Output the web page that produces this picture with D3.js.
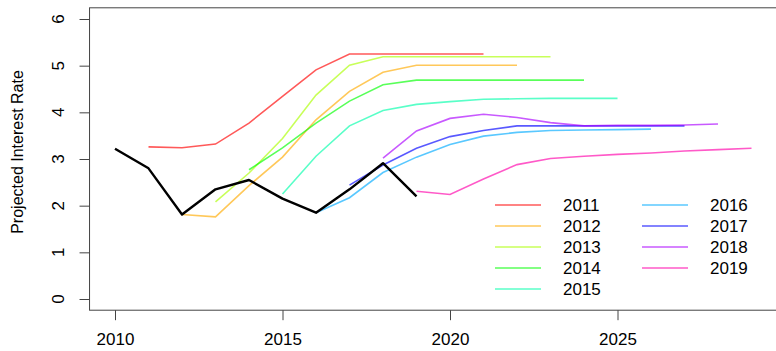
<!DOCTYPE html>
<html>
<head>
<meta charset="utf-8">
<script src="https://cdn.jsdelivr.net/npm/d3@7"></script>
<style>
  body { margin: 0; background: #fff; }
  svg text { font-family: "Liberation Sans", Arial, sans-serif; fill: #000; }
</style>
</head>
<body>
<div id="chart"></div>
<script>
// projection vintages and their colours (R rainbow palette, softened)
const vintages = [2011, 2012, 2013, 2014, 2015, 2016, 2017, 2018, 2019];
const colors = ["#FF0000", "#FFAA00", "#AAFF00", "#00FF00", "#00FFAA", "#00AAFF", "#0000FF", "#AA00FF", "#FF00AA"];

// each vintage projects 11 years starting from its own year
const proj2011 = [3.26, 3.24, 3.32, 3.77, 4.34, 4.91, 5.25, 5.25, 5.25, 5.25, 5.25];
const proj2012 = [1.81, 1.76, 2.43, 3.04, 3.84, 4.45, 4.86, 5.01, 5.01, 5.01, 5.01];
const proj2013 = [2.08, 2.70, 3.44, 4.37, 5.01, 5.19, 5.19, 5.19, 5.19, 5.19, 5.19];
const proj2014 = [2.77, 3.24, 3.77, 4.24, 4.59, 4.69, 4.69, 4.69, 4.69, 4.69, 4.69];
const proj2015 = [2.25, 3.06, 3.71, 4.04, 4.17, 4.23, 4.28, 4.29, 4.30, 4.30, 4.30];
const proj2016 = [1.85, 2.17, 2.71, 3.04, 3.31, 3.49, 3.57, 3.61, 3.62, 3.63, 3.64];
const proj2017 = [2.44, 2.87, 3.23, 3.48, 3.61, 3.71, 3.71, 3.71, 3.71, 3.71, 3.71];
const proj2018 = [3.02, 3.60, 3.87, 3.96, 3.89, 3.78, 3.71, 3.72, 3.72, 3.73, 3.75];
const proj2019 = [2.31, 2.24, 2.57, 2.88, 3.01, 3.06, 3.10, 3.13, 3.17, 3.20, 3.23];
const projections = [proj2011, proj2012, proj2013, proj2014, proj2015, proj2016, proj2017, proj2018, proj2019];

// realised rate
const actualYears = [2010, 2011, 2012, 2013, 2014, 2015, 2016, 2017, 2018, 2019];
const actual = [3.22, 2.80, 1.81, 2.35, 2.55, 2.15, 1.85, 2.35, 2.91, 2.20];

const xTicks = [2010, 2015, 2020, 2025];
const yTicks = [0, 1, 2, 3, 4, 5, 6];

const W = 776, H = 351;

const svg = d3.select("#chart").append("svg")
  .attr("width", W)
  .attr("height", H);

// R style: axes extend 4% past the data range
const x = d3.scaleLinear().domain([2010, 2029]).range([115, 751.5]);
const y = d3.scaleLinear().domain([0, 6]).range([299, 19]);

const x0 = x(2010 - 0.76), x1 = x(2029 + 0.76);
const y0 = y(-0.24), y1 = y(6.24);

const line = d3.line()
  .x(d => x(d[0]))
  .y(d => y(d[1]));

const lines = svg.append("g").attr("clip-path", "url(#clip)");
svg.append("clipPath").attr("id", "clip")
  .append("rect").attr("x", x0).attr("y", y1).attr("width", x1 - x0).attr("height", y0 - y1);

projections.forEach((vals, i) => {
  const pts = vals.map((v, k) => [vintages[i] + k, v]);
  lines.append("path")
    .attr("d", line(pts))
    .attr("fill", "none")
    .attr("stroke", colors[i])
    .attr("stroke-opacity", 0.65)
    .attr("stroke-width", 1.6);
});

lines.append("path")
  .attr("d", line(actual.map((v, i) => [actualYears[i], v])))
  .attr("fill", "none")
  .attr("stroke", "#000")
  .attr("stroke-width", 2.4)
  .attr("stroke-linejoin", "round");

// box
svg.append("rect")
  .attr("x", x0).attr("y", y1)
  .attr("width", x1 - x0).attr("height", y0 - y1)
  .attr("fill", "none")
  .attr("stroke", "#444")
  .attr("stroke-width", 1);

// x axis
const xAxis = svg.append("g")
  .attr("transform", `translate(0,${y0})`)
  .call(d3.axisBottom(x).tickValues(xTicks).tickFormat(d3.format("d")).tickSize(10).tickPadding(13));
xAxis.select(".domain").remove();
xAxis.selectAll("line").attr("stroke", "#444");
xAxis.selectAll("text").style("font-size", "17px").attr("fill", "#000");

// y axis, labels rotated like R's default las=0
const yAxis = svg.append("g")
  .attr("transform", `translate(${x0},0)`)
  .call(d3.axisLeft(y).tickValues(yTicks).tickSize(10).tickFormat(""));
yAxis.select(".domain").remove();
yAxis.selectAll("line").attr("stroke", "#444");

svg.append("g").selectAll("text")
  .data(yTicks)
  .join("text")
  .attr("transform", d => `translate(64,${y(d)}) rotate(-90)`)
  .attr("text-anchor", "middle")
  .style("font-size", "17px")
  .text(d => d);

svg.append("text")
  .attr("transform", `translate(23,152) rotate(-90)`)
  .attr("text-anchor", "middle")
  .style("font-size", "16px")
  .text("Projected Interest Rate");

// legend, two columns
const legend = svg.append("g");
vintages.forEach((v, i) => {
  const col = i < 5 ? 0 : 1;
  const row = i < 5 ? i : i - 5;
  const lx = col === 0 ? 495 : 642;
  const ly = 205 + row * 21;
  legend.append("line")
    .attr("x1", lx).attr("x2", lx + 46)
    .attr("y1", ly).attr("y2", ly)
    .attr("stroke", colors[i])
    .attr("stroke-opacity", 0.65)
    .attr("stroke-width", 1.6);
  legend.append("text")
    .attr("x", lx + 68)
    .attr("y", ly + 6)
    .style("font-size", "17px")
    .text(v);
});
</script>
</body>
</html>
